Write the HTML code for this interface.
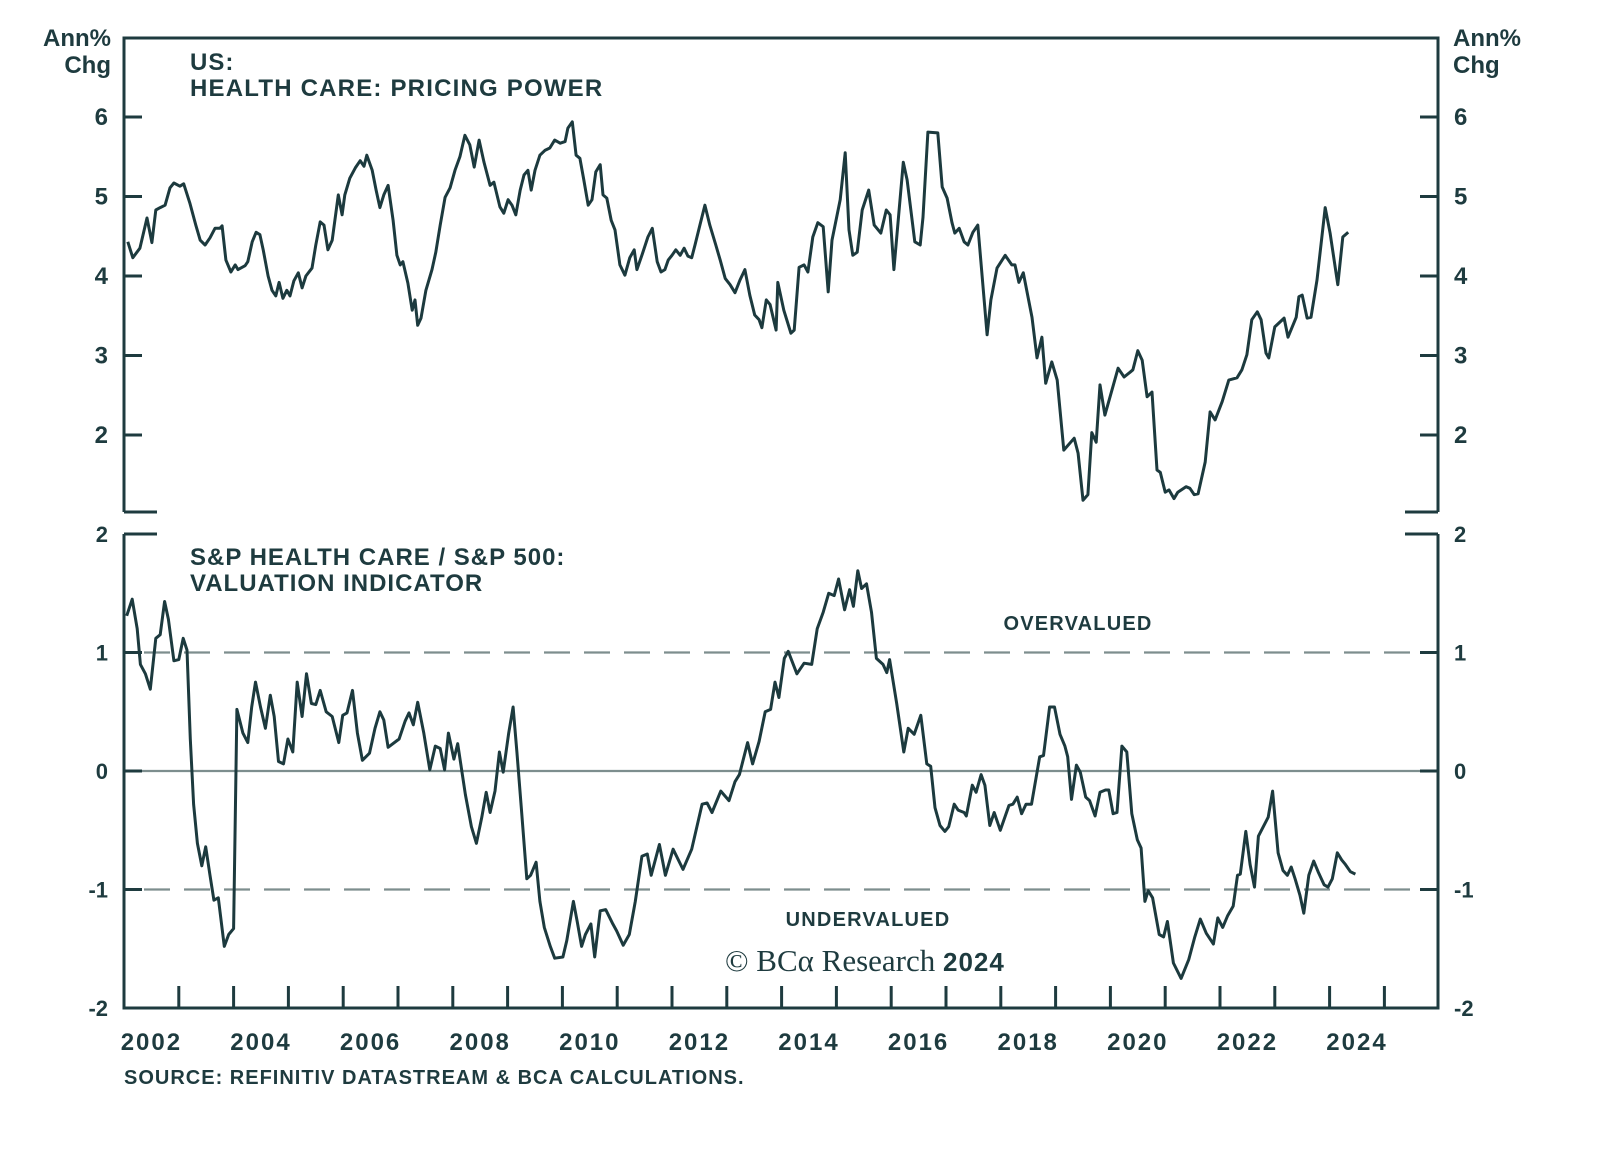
<!DOCTYPE html>
<html><head><meta charset="utf-8"><style>
html,body{margin:0;padding:0;background:#fff;}
svg{display:block;}
text{font-family:"Liberation Sans",sans-serif;fill:#1e3b3f;font-weight:bold;}
</style></head><body>
<svg id="chart" width="1600" height="1160" viewBox="0 0 1600 1160" xmlns="http://www.w3.org/2000/svg">
<g id="axes"></g>
<text x="111" y="46" font-size="24" text-anchor="end">Ann%</text>
<text x="111" y="73" font-size="24" text-anchor="end">Chg</text>
<text x="1453" y="46" font-size="24">Ann%</text>
<text x="1453" y="73" font-size="24">Chg</text>
<text x="190" y="70" font-size="24" letter-spacing="1">US:</text>
<text x="190" y="96" font-size="24" letter-spacing="1.2">HEALTH CARE: PRICING POWER</text>
<text x="190" y="565" font-size="24" letter-spacing="1">S&amp;P HEALTH CARE / S&amp;P 500:</text>
<text x="190" y="591" font-size="24" letter-spacing="1">VALUATION INDICATOR</text>
<text x="1078" y="630" font-size="20" letter-spacing="1.2" text-anchor="middle">OVERVALUED</text>
<text x="868" y="926" font-size="20" letter-spacing="1.2" text-anchor="middle">UNDERVALUED</text>
<text x="725" y="971" font-size="31" style="font-family:'Liberation Serif',serif;font-weight:normal">© BCα Research <tspan style="font-family:'Liberation Sans',sans-serif;font-weight:bold" font-size="26" letter-spacing="1">2024</tspan></text>
<text x="124" y="1084" font-size="20" letter-spacing="1">SOURCE: REFINITIV DATASTREAM &amp; BCA CALCULATIONS.</text>
<g id="series"></g>
</svg>
<script>
const topDates=[2002.07,2002.16,2002.29,2002.42,2002.51,2002.58,2002.66,2002.75,2002.84,2002.91,2003.02,2003.09,2003.20,2003.31,2003.39,2003.48,2003.57,2003.66,2003.75,2003.79,2003.86,2003.95,2004.03,2004.08,2004.21,2004.26,2004.34,2004.41,2004.48,2004.54,2004.63,2004.70,2004.77,2004.83,2004.90,2004.97,2005.03,2005.10,2005.18,2005.25,2005.32,2005.43,2005.50,2005.58,2005.65,2005.72,2005.80,2005.91,2005.98,2006.03,2006.12,2006.22,2006.31,2006.38,2006.43,2006.53,2006.60,2006.67,2006.74,2006.82,2006.91,2006.98,2007.04,2007.09,2007.18,2007.26,2007.31,2007.36,2007.42,2007.51,2007.62,2007.69,2007.77,2007.86,2007.95,2008.04,2008.13,2008.22,2008.31,2008.39,2008.48,2008.57,2008.68,2008.75,2008.86,2008.93,2009.01,2009.08,2009.15,2009.23,2009.30,2009.37,2009.43,2009.50,2009.59,2009.68,2009.77,2009.86,2009.96,2010.05,2010.10,2010.18,2010.25,2010.32,2010.39,2010.47,2010.54,2010.61,2010.69,2010.74,2010.81,2010.89,2010.96,2011.05,2011.14,2011.23,2011.31,2011.36,2011.45,2011.56,2011.64,2011.73,2011.80,2011.87,2011.93,2012.00,2012.07,2012.15,2012.22,2012.29,2012.36,2012.42,2012.51,2012.60,2012.69,2012.80,2012.88,2012.97,2013.06,2013.15,2013.24,2013.33,2013.42,2013.51,2013.59,2013.64,2013.72,2013.79,2013.90,2013.93,2014.04,2014.17,2014.23,2014.32,2014.41,2014.48,2014.57,2014.66,2014.76,2014.85,2014.92,2015.07,2015.16,2015.23,2015.30,2015.38,2015.47,2015.59,2015.69,2015.81,2015.91,2015.98,2016.05,2016.22,2016.29,2016.43,2016.53,2016.58,2016.67,2016.85,2016.93,2017.02,2017.11,2017.16,2017.24,2017.33,2017.40,2017.49,2017.58,2017.75,2017.82,2017.93,2018.08,2018.20,2018.26,2018.33,2018.41,2018.57,2018.66,2018.75,2018.82,2018.93,2019.03,2019.15,2019.34,2019.41,2019.50,2019.59,2019.66,2019.74,2019.81,2019.90,2020.14,2020.25,2020.36,2020.41,2020.50,2020.58,2020.67,2020.76,2020.85,2020.91,2021.00,2021.07,2021.16,2021.23,2021.38,2021.45,2021.53,2021.60,2021.73,2021.82,2021.91,2022.04,2022.16,2022.31,2022.40,2022.49,2022.58,2022.68,2022.75,2022.84,2022.89,2023.00,2023.17,2023.24,2023.39,2023.44,2023.50,2023.59,2023.66,2023.77,2023.92,2024.01,2024.15,2024.24,2024.34];
const topValues=[4.43,4.23,4.35,4.73,4.42,4.83,4.86,4.89,5.11,5.17,5.13,5.16,4.92,4.64,4.45,4.39,4.48,4.60,4.60,4.63,4.20,4.05,4.14,4.08,4.13,4.18,4.43,4.55,4.52,4.33,4.00,3.82,3.75,3.92,3.72,3.82,3.75,3.94,4.04,3.85,4.00,4.10,4.39,4.68,4.64,4.33,4.45,5.02,4.77,5.02,5.23,5.36,5.45,5.38,5.52,5.33,5.08,4.86,5.02,5.14,4.70,4.26,4.14,4.18,3.91,3.57,3.70,3.38,3.47,3.82,4.08,4.30,4.64,4.99,5.11,5.33,5.50,5.77,5.65,5.37,5.71,5.43,5.14,5.18,4.87,4.79,4.96,4.89,4.77,5.08,5.27,5.33,5.08,5.33,5.52,5.58,5.61,5.71,5.67,5.69,5.86,5.94,5.52,5.48,5.21,4.89,4.96,5.31,5.40,5.02,4.98,4.70,4.58,4.14,4.01,4.23,4.33,4.08,4.26,4.49,4.60,4.18,4.05,4.08,4.20,4.26,4.33,4.26,4.35,4.25,4.23,4.39,4.64,4.89,4.64,4.39,4.20,3.97,3.89,3.79,3.95,4.08,3.76,3.51,3.45,3.35,3.70,3.64,3.32,3.92,3.57,3.28,3.32,4.11,4.14,4.05,4.49,4.67,4.62,3.80,4.45,4.96,5.55,4.58,4.26,4.30,4.83,5.08,4.64,4.54,4.83,4.77,4.08,5.43,5.21,4.43,4.39,4.74,5.81,5.80,5.12,4.98,4.67,4.54,4.60,4.43,4.39,4.55,4.64,3.26,3.70,4.10,4.26,4.14,4.14,3.92,4.04,3.48,2.97,3.23,2.65,2.92,2.69,1.81,1.96,1.77,1.18,1.25,2.03,1.91,2.63,2.25,2.84,2.73,2.79,2.82,3.06,2.94,2.48,2.54,1.56,1.53,1.28,1.31,1.20,1.28,1.35,1.33,1.25,1.26,1.66,2.29,2.19,2.42,2.69,2.72,2.82,3.01,3.45,3.55,3.45,3.03,2.97,3.36,3.47,3.23,3.48,3.74,3.76,3.47,3.48,3.95,4.86,4.54,3.89,4.49,4.55];
const botDates=[2002.05,2002.15,2002.24,2002.30,2002.39,2002.48,2002.58,2002.66,2002.74,2002.81,2002.91,2003.00,2003.08,2003.15,2003.21,2003.27,2003.34,2003.42,2003.49,2003.57,2003.64,2003.72,2003.83,2003.91,2004.00,2004.06,2004.17,2004.26,2004.33,2004.40,2004.49,2004.58,2004.67,2004.74,2004.82,2004.91,2004.99,2005.08,2005.16,2005.25,2005.33,2005.42,2005.50,2005.58,2005.69,2005.80,2005.92,2005.99,2006.07,2006.17,2006.26,2006.35,2006.48,2006.58,2006.67,2006.74,2006.82,2007.02,2007.13,2007.20,2007.28,2007.36,2007.47,2007.58,2007.68,2007.77,2007.85,2007.92,2008.02,2008.09,2008.23,2008.34,2008.43,2008.53,2008.61,2008.68,2008.77,2008.85,2008.92,2009.02,2009.10,2009.17,2009.25,2009.35,2009.42,2009.52,2009.59,2009.67,2009.78,2009.86,2010.01,2010.08,2010.20,2010.27,2010.35,2010.42,2010.52,2010.59,2010.69,2010.79,2010.92,2010.99,2011.11,2011.22,2011.33,2011.45,2011.55,2011.62,2011.77,2011.88,2012.02,2012.20,2012.36,2012.55,2012.64,2012.73,2012.89,2013.04,2013.15,2013.23,2013.38,2013.47,2013.59,2013.70,2013.80,2013.88,2013.95,2014.05,2014.12,2014.28,2014.41,2014.55,2014.65,2014.76,2014.86,2014.96,2015.04,2015.15,2015.24,2015.31,2015.39,2015.46,2015.55,2015.64,2015.73,2015.85,2015.92,2015.97,2016.10,2016.23,2016.31,2016.42,2016.54,2016.65,2016.72,2016.80,2016.89,2016.98,2017.05,2017.15,2017.22,2017.33,2017.37,2017.48,2017.55,2017.64,2017.71,2017.80,2017.88,2017.99,2018.15,2018.22,2018.30,2018.38,2018.46,2018.56,2018.71,2018.78,2018.89,2018.98,2019.08,2019.17,2019.22,2019.29,2019.38,2019.45,2019.55,2019.62,2019.72,2019.81,2019.91,2019.97,2020.05,2020.12,2020.21,2020.30,2020.39,2020.49,2020.56,2020.63,2020.69,2020.77,2020.89,2020.97,2021.04,2021.15,2021.29,2021.43,2021.54,2021.64,2021.75,2021.88,2021.96,2022.05,2022.14,2022.24,2022.32,2022.37,2022.47,2022.55,2022.63,2022.70,2022.79,2022.88,2022.96,2023.06,2023.15,2023.23,2023.30,2023.37,2023.46,2023.53,2023.62,2023.71,2023.79,2023.90,2023.97,2024.05,2024.14,2024.22,2024.29,2024.38,2024.47];
const botValues=[1.31,1.45,1.20,0.90,0.82,0.69,1.12,1.15,1.43,1.28,0.93,0.94,1.12,1.02,0.27,-0.28,-0.61,-0.80,-0.64,-0.88,-1.09,-1.07,-1.48,-1.38,-1.33,0.52,0.32,0.24,0.54,0.75,0.54,0.36,0.64,0.46,0.08,0.06,0.27,0.16,0.75,0.46,0.82,0.57,0.56,0.68,0.50,0.46,0.24,0.47,0.49,0.68,0.32,0.09,0.15,0.36,0.50,0.43,0.20,0.27,0.42,0.49,0.39,0.58,0.32,0.01,0.21,0.19,0.01,0.32,0.10,0.23,-0.20,-0.47,-0.61,-0.39,-0.18,-0.35,-0.17,0.16,-0.01,0.32,0.54,0.16,-0.31,-0.91,-0.88,-0.77,-1.10,-1.32,-1.48,-1.58,-1.57,-1.43,-1.10,-1.27,-1.48,-1.38,-1.29,-1.57,-1.18,-1.17,-1.29,-1.35,-1.47,-1.38,-1.10,-0.72,-0.70,-0.88,-0.62,-0.88,-0.66,-0.83,-0.66,-0.28,-0.27,-0.35,-0.17,-0.25,-0.09,-0.03,0.24,0.06,0.25,0.50,0.52,0.75,0.62,0.95,1.01,0.82,0.91,0.90,1.20,1.34,1.50,1.48,1.62,1.36,1.53,1.39,1.69,1.54,1.58,1.34,0.95,0.90,0.83,0.94,0.57,0.16,0.36,0.31,0.47,0.06,0.04,-0.31,-0.46,-0.51,-0.47,-0.28,-0.33,-0.35,-0.38,-0.12,-0.18,-0.03,-0.12,-0.46,-0.35,-0.50,-0.29,-0.28,-0.22,-0.36,-0.28,-0.28,0.12,0.13,0.54,0.54,0.31,0.21,0.12,-0.24,0.05,-0.01,-0.22,-0.25,-0.38,-0.18,-0.16,-0.16,-0.36,-0.35,0.21,0.16,-0.36,-0.58,-0.65,-1.10,-1.01,-1.07,-1.38,-1.40,-1.27,-1.62,-1.75,-1.59,-1.40,-1.25,-1.37,-1.46,-1.24,-1.32,-1.22,-1.14,-0.88,-0.87,-0.51,-0.79,-0.98,-0.55,-0.47,-0.39,-0.17,-0.69,-0.84,-0.88,-0.81,-0.91,-1.05,-1.20,-0.88,-0.76,-0.85,-0.96,-0.98,-0.91,-0.69,-0.75,-0.79,-0.85,-0.87];
const xTickYears=[2003,2004,2005,2006,2007,2008,2009,2010,2011,2012,2013,2014,2015,2016,2017,2018,2019,2020,2021,2022,2023,2024,2025];
const xLabelYears=[2002,2004,2006,2008,2010,2012,2014,2016,2018,2020,2022,2024];
const topTicks=[6,5,4,3,2];
const botTicks=[2,1,0,-1,-2];
const refLines=[1,-1];

const NS="http://www.w3.org/2000/svg";
const L=124,R=1438;
const xS=t=>L+(t-2002)*54.8;
const yTop=v=>117+(6-v)*79.5;
const yBot=v=>771-v*118.5;
const axes=document.getElementById('axes'),ser=document.getElementById('series');
function mk(p,tag,a){const e=document.createElementNS(NS,tag);for(const k in a)e.setAttribute(k,a[k]);p.appendChild(e);return e;}
const C="#1e3b3f";
let e;
e=mk(axes,'path',{d:`M${L},512 L${L},38 L${R},38 L${R},512`,fill:'none',stroke:C,'stroke-width':3});


e=mk(axes,'path',{d:`M${L},512 h33 M${R},512 h-33 M${L},534 h33 M${R},534 h-33 M${L},534 L${L},1008 L${R},1008 L${R},534`,fill:'none',stroke:C,'stroke-width':3});


e=mk(axes,'line',{x1:L,x2:R,y1:yBot(0),y2:yBot(0),stroke:'#7d8e8e','stroke-width':2.2});


refLines.forEach(v=>{
 const l=mk(axes,'line',{x1:L+20,x2:R,y1:yBot(v),y2:yBot(v),stroke:'#7d8e8e','stroke-width':2.2,'stroke-dasharray':'26 14'});
 
 
});
topTicks.forEach(v=>{
 const y=yTop(v);
 const t=mk(axes,'path',{d:`M${L},${y} h18 M${R},${y} h-18`,stroke:C,'stroke-width':3});
 
 
 const a=mk(axes,'text',{x:108,y:y+8,'font-size':24,'text-anchor':'end'});a.textContent=v;
 
 
 const b=mk(axes,'text',{x:1454,y:y+8,'font-size':24});b.textContent=v;
 
 
});
botTicks.forEach(v=>{
 const y=yBot(v);
 if(v!==2&&v!==-2){const t=mk(axes,'path',{d:`M${L},${y} h18 M${R},${y} h-18`,stroke:C,'stroke-width':3});
 
 }
 const a=mk(axes,'text',{x:108,y:y+8,'font-size':22,'text-anchor':'end'});a.textContent=v;
 
 
 const b=mk(axes,'text',{x:1454,y:y+8,'font-size':22});b.textContent=v;
 
 
});
xTickYears.forEach(yr=>{
 const t=mk(axes,'line',{x1:xS(yr),x2:xS(yr),y1:1008,y2:986,stroke:C,'stroke-width':3});
 
 
});
xLabelYears.forEach(yr=>{
 const t=mk(axes,'text',{x:xS(yr+0.5),y:1050,'font-size':24,'letter-spacing':2,'text-anchor':'middle'});t.textContent=yr;
 
 
});
function line(d,v,fy,name){
 const p=mk(ser,'polyline',{points:d.map((t,i)=>xS(t).toFixed(1)+','+fy(v[i]).toFixed(1)).join(' '),fill:'none',stroke:'#1c3a3e','stroke-width':3,'stroke-linejoin':'round'});
 
 
}
line(topDates,topValues,yTop,'pricing-power-line');
line(botDates,botValues,yBot,'valuation-indicator-line');
</script>
</body></html>
